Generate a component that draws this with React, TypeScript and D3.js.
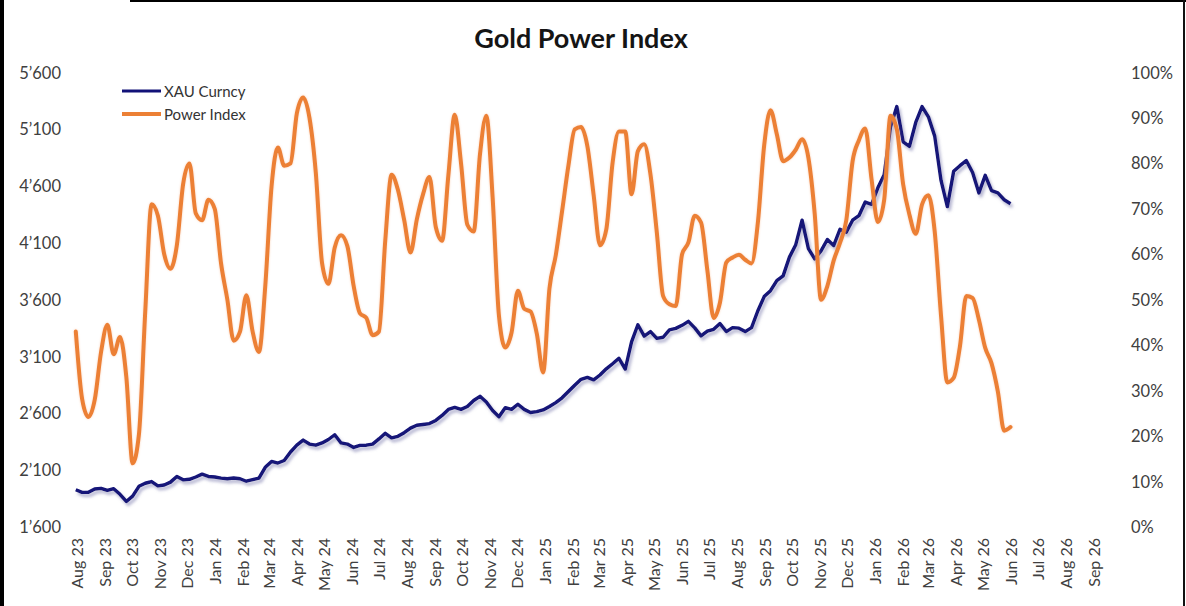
import React, { useEffect, useRef } from "react";
import * as d3 from "d3";

// weekly observations, first one on this date
const firstWeek = new Date(2023, 6, 31);

const monthLabels = [
  "Aug 23", "Sep 23", "Oct 23", "Nov 23", "Dec 23",
  "Jan 24", "Feb 24", "Mar 24", "Apr 24", "May 24", "Jun 24", "Jul 24",
  "Aug 24", "Sep 24", "Oct 24", "Nov 24", "Dec 24",
  "Jan 25", "Feb 25", "Mar 25", "Apr 25", "May 25", "Jun 25", "Jul 25",
  "Aug 25", "Sep 25", "Oct 25", "Nov 25", "Dec 25",
  "Jan 26", "Feb 26", "Mar 26", "Apr 26", "May 26", "Jun 26", "Jul 26",
  "Aug 26", "Sep 26",
];

const leftTicks = [1600, 2100, 2600, 3100, 3600, 4100, 4600, 5100, 5600];
const rightTicks = [0, 0.1, 0.2, 0.3, 0.4, 0.5, 0.6, 0.7, 0.8, 0.9, 1];

// XAU Curncy, weekly
const xauValues = [
  1928, 1905, 1905, 1935, 1940, 1922, 1937, 1888, 1825, 1872,
  1958, 1985, 2000, 1962, 1970, 1995, 2045, 2015, 2020, 2040,
  2065, 2045, 2040, 2030, 2025, 2031, 2025, 2003, 2017, 2030,
  2125, 2177, 2163, 2185, 2260, 2320, 2365, 2330, 2320, 2340,
  2370, 2412, 2340, 2330, 2300, 2318, 2320, 2330, 2375, 2425,
  2385, 2398, 2430, 2470, 2495, 2502, 2510, 2538, 2582, 2635,
  2652, 2635, 2660, 2713, 2750, 2700, 2625, 2570, 2650, 2635,
  2680, 2635, 2608, 2615, 2630, 2660, 2695, 2737, 2792, 2848,
  2900, 2917, 2895, 2938, 2992, 3037, 3085, 2990, 3230, 3380,
  3280, 3320, 3260, 3270, 3335, 3348, 3375, 3410, 3352, 3282,
  3323, 3340, 3390, 3320, 3355, 3350, 3320, 3355, 3503, 3628,
  3680, 3768, 3810, 3975, 4085, 4300, 4050, 3960, 4030, 4130,
  4077, 4220, 4195, 4300, 4340, 4460, 4440, 4585, 4700, 5120,
  5300, 4990, 4950, 5160, 5300, 5210, 5040, 4650, 4420, 4730,
  4780, 4825, 4720, 4540, 4695, 4560, 4540, 4480, 4445,
];

// Power Index in %, weekly
const powerValues = [
  43, 28.2, 24.2, 28, 38.5, 44.5, 38, 41.8, 33, 14,
  20.4, 47.5, 71, 68.5, 60, 56.8, 62, 75.5, 80, 69,
  67.5, 72, 70, 58, 50, 41, 43, 51, 43, 38.5,
  53, 75, 83.5, 79.5, 80, 91, 94.5, 90, 78, 58,
  53.5, 61.5, 64.2, 61.8, 53, 47, 46, 42.2, 43, 63,
  77.5, 74.2, 67.5, 60.4, 67.7, 73.3, 77, 66, 63, 77.5,
  90.7, 80, 66.5, 65, 82, 90.5, 72.5, 46.5, 39.5, 42.8,
  52, 48, 47.4, 42.5, 34, 52.5, 59.8, 69.5, 79.5, 87.5,
  88, 83.8, 73, 62, 65.5, 80.2, 87, 87, 73.2, 82.7,
  84.2, 77.5, 64.8, 50.8, 49, 48.6, 60, 62.6, 68.5, 67,
  56.5, 46, 49.4, 58.2, 59.3, 59.9, 58.8, 58, 67, 84,
  91.7, 86.4, 80.5, 81.3, 83, 85.3, 81.2, 68.9, 50, 53,
  58.6, 62.5, 67.5, 80.5, 85.1, 87.7, 76.5, 67.1, 72, 90.5,
  87.5, 75.4, 68.7, 64.5, 71, 73, 65, 46.5, 31.8, 32.8,
  39.8, 50.8, 50.4, 45.6, 39.4, 36, 29.8, 21.2, 22,
];

const FONT = "Lato, 'Open Sans', sans-serif";
const BLUE = "#121278";
const ORANGE = "#ec8035";

const App = () => {
  const svgRef = useRef<SVGSVGElement>(null);

  useEffect(() => {
    const svg = d3.select(svgRef.current);
    svg.selectAll("*").remove();

    const top = 72.5;
    const bottom = 527;

    const firstMonth = new Date(2023, 7, 1);
    const lastMonth = d3.timeMonth.offset(firstMonth, monthLabels.length - 1);
    const x = d3.scaleTime().domain([firstMonth, lastMonth]).range([76.7, 1093.5]);
    const yLeft = d3.scaleLinear().domain([1600, 5600]).range([bottom, top]);
    const yRight = d3.scaleLinear().domain([0, 1]).range([bottom, top]);

    const weeks = xauValues.map((_, i) => d3.timeDay.offset(firstWeek, i * 7));

    // frame edges of the screenshot
    svg.append("rect").attr("x", 0).attr("y", 0).attr("width", 1186).attr("height", 606).attr("fill", "#fff");
    svg.append("rect").attr("x", 0).attr("y", 0).attr("width", 4).attr("height", 606).attr("fill", "#000");
    svg.append("rect").attr("x", 130).attr("y", 0).attr("width", 1056).attr("height", 2).attr("fill", "#000");
    svg.append("rect").attr("x", 1183).attr("y", 0).attr("width", 2).attr("height", 606).attr("fill", "#111");

    const defs = svg.append("defs");
    defs
      .append("filter")
      .attr("id", "blueShadow")
      .attr("x", "-5%")
      .attr("y", "-10%")
      .attr("width", "110%")
      .attr("height", "130%")
      .append("feDropShadow")
      .attr("dx", 2)
      .attr("dy", 3)
      .attr("stdDeviation", 1.8)
      .attr("flood-color", "#7c7cae")
      .attr("flood-opacity", 0.55);
    defs
      .append("filter")
      .attr("id", "orangeGlow")
      .attr("x", "-5%")
      .attr("y", "-10%")
      .attr("width", "110%")
      .attr("height", "120%")
      .append("feDropShadow")
      .attr("dx", 0)
      .attr("dy", 0)
      .attr("stdDeviation", 1.2)
      .attr("flood-color", "#f6b78b")
      .attr("flood-opacity", 0.6);

    // title
    svg
      .append("text")
      .attr("x", 581)
      .attr("y", 48)
      .attr("text-anchor", "middle")
      .style("font-family", FONT)
      .style("font-size", "27px")
      .style("font-weight", "bold")
      .style("fill", "#151515")
      .text("Gold Power Index");

    // left axis labels
    const fmtLeft = (v: number) => d3.format(",")(v).replace(",", "\u2019");
    svg
      .append("g")
      .selectAll("text")
      .data(leftTicks)
      .join("text")
      .attr("x", 61)
      .attr("y", (d) => yLeft(d))
      .attr("text-anchor", "end")
      .attr("dominant-baseline", "central")
      .style("font-family", FONT)
      .style("font-size", "16.5px")
      .style("fill", "#404040")
      .text((d) => fmtLeft(d));

    // right axis labels
    svg
      .append("g")
      .selectAll("text")
      .data(rightTicks)
      .join("text")
      .attr("x", 1131)
      .attr("y", (d) => yRight(d))
      .attr("text-anchor", "start")
      .attr("dominant-baseline", "central")
      .style("font-family", FONT)
      .style("font-size", "16.5px")
      .style("fill", "#404040")
      .text((d) => d3.format(".0%")(d));

    // month labels
    svg
      .append("g")
      .selectAll("text")
      .data(monthLabels)
      .join("text")
      .attr("transform", (_, i) => `translate(${x(d3.timeMonth.offset(firstMonth, i))},538) rotate(-90)`)
      .attr("text-anchor", "end")
      .attr("dominant-baseline", "central")
      .style("font-family", FONT)
      .style("font-size", "16px")
      .style("fill", "#404040")
      .text((d) => d);

    // XAU line
    const xauLine = d3
      .line<number>()
      .x((_, i) => x(weeks[i]))
      .y((d) => yLeft(d));
    svg
      .append("path")
      .datum(xauValues)
      .attr("d", xauLine)
      .attr("fill", "none")
      .attr("stroke", BLUE)
      .attr("stroke-width", 3.4)
      .attr("stroke-linejoin", "round")
      .attr("filter", "url(#blueShadow)");

    // Power Index line
    const powerLine = d3
      .line<number>()
      .x((_, i) => x(weeks[i]))
      .y((d) => yRight(d / 100))
      .curve(d3.curveMonotoneX);
    svg
      .append("path")
      .datum(powerValues)
      .attr("d", powerLine)
      .attr("fill", "none")
      .attr("stroke", ORANGE)
      .attr("stroke-width", 4)
      .attr("stroke-linejoin", "round")
      .attr("stroke-linecap", "round")
      .attr("filter", "url(#orangeGlow)");

    // legend
    const legend = [
      { label: "XAU Curncy", color: BLUE, width: 3, y: 91 },
      { label: "Power Index", color: ORANGE, width: 4, y: 114 },
    ];
    const lg = svg.append("g");
    legend.forEach((item) => {
      lg.append("line")
        .attr("x1", 122)
        .attr("x2", 161)
        .attr("y1", item.y)
        .attr("y2", item.y)
        .attr("stroke", item.color)
        .attr("stroke-width", item.width);
      lg.append("text")
        .attr("x", 164)
        .attr("y", item.y)
        .attr("dominant-baseline", "central")
        .style("font-family", FONT)
        .style("font-size", "15px")
        .style("fill", "#333")
        .text(item.label);
    });
  }, []);

  return (
    <svg
      ref={svgRef}
      width={1186}
      height={606}
      style={{ position: "absolute", left: 0, top: 0 }}
    />
  );
};

export default App;
